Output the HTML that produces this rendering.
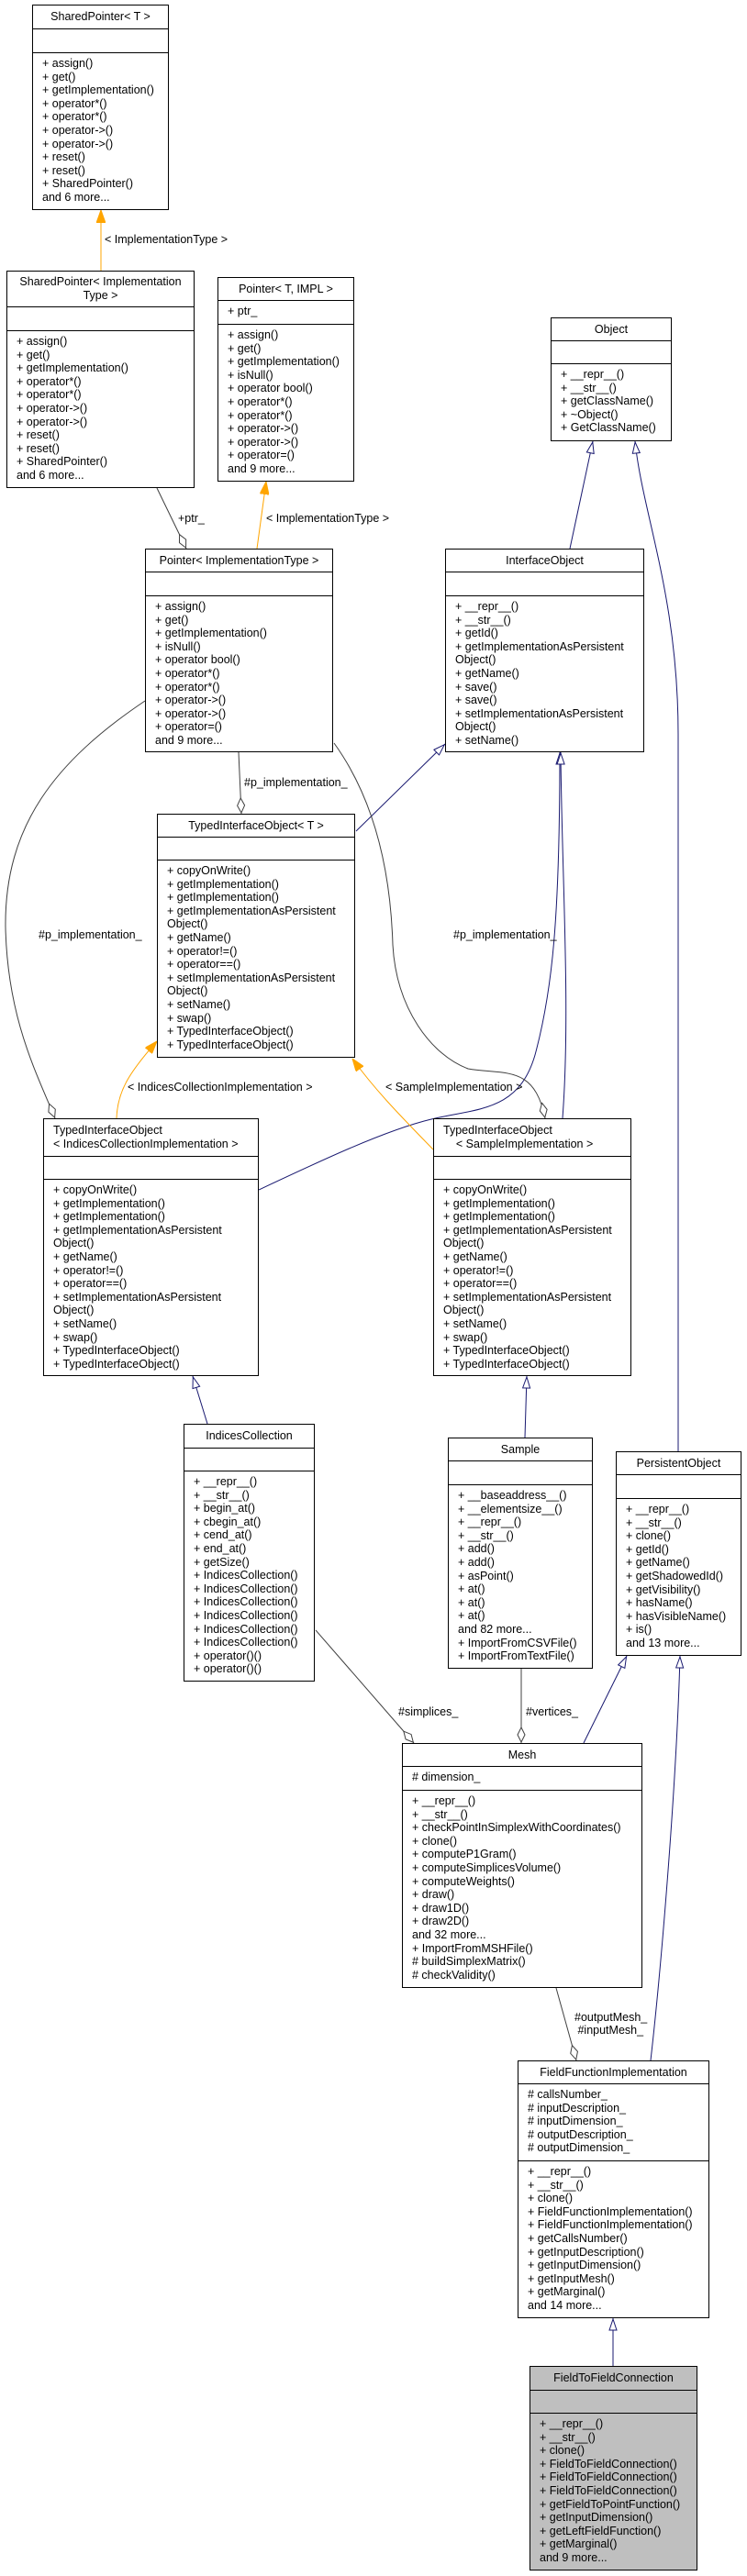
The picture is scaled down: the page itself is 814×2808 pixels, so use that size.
<!DOCTYPE html>
<html><head><meta charset="utf-8"><style>
body{margin:0;background:#fff;}
#c{position:relative;width:814px;height:2808px;overflow:hidden;font-family:"Liberation Sans",Arial,sans-serif;font-size:12.5px;color:#000;}
.b{position:absolute;border:1px solid #000;box-sizing:border-box;background:#fff;}
.b>div{box-sizing:border-box;white-space:nowrap;line-height:14.6px;}
.h{display:flex;flex-direction:column;justify-content:center;text-align:center;border-bottom:1px solid #000;}
.a{border-bottom:1px solid #000;padding:4px 0 0 10px;}
.m{padding:4px 0 0 10px;}
.lab{position:absolute;white-space:nowrap;font-size:12.5px;line-height:14px;}
svg{position:absolute;left:0;top:0;}
</style></head><body><div id="c">
<svg width="814" height="2808" viewBox="0 0 814 2808">
<defs>
<marker id="tn" viewBox="0 0 14 10" refX="14" refY="5" markerUnits="userSpaceOnUse" markerWidth="14" markerHeight="10" orient="auto"><path d="M1,1 L13,5 L1,9 z" fill="#fff" stroke="#191970" stroke-width="1"/></marker>
<marker id="to" viewBox="0 0 14 10" refX="14" refY="5" markerUnits="userSpaceOnUse" markerWidth="14" markerHeight="10" orient="auto"><path d="M0,0 L14,5 L0,10 z" fill="#ffa500" stroke="#ffa500"/></marker>
<marker id="dm" viewBox="0 0 18 10" refX="18" refY="5" markerUnits="userSpaceOnUse" markerWidth="18" markerHeight="10" orient="auto"><path d="M1,5 L9,1 L17,5 L9,9 z" fill="#fff" stroke="#404040" stroke-width="1"/></marker>
</defs>
<g fill="none" stroke-width="1">
<path d="M110,295 L110,229" stroke="#ffa500" marker-end="url(#to)"/>
<path d="M280,598 L290,525" stroke="#ffa500" marker-end="url(#to)"/>
<path d="M171,532 L203,598" stroke="#404040" marker-end="url(#dm)"/>
<path d="M621,598 L646,481" stroke="#191970" marker-end="url(#tn)"/>
<path d="M739,1582 L739,800 C739,650 700,560 692,481" stroke="#191970" marker-end="url(#tn)"/>
<path d="M388,906 L485,811" stroke="#191970" marker-end="url(#tn)"/>
<path d="M282,1297 C350,1265 420,1232 470,1220 C520,1208 565,1212 583,1150 C602,1080 610,1000 610,820" stroke="#191970" marker-end="url(#tn)"/>
<path d="M613,1219 C622,1100 612,950 611,820" stroke="#191970" marker-end="url(#tn)"/>
<path d="M260,820 L263,887" stroke="#404040" marker-end="url(#dm)"/>
<path d="M158,764 C60,830 5,900 6,1010 C8,1110 40,1170 60,1219" stroke="#404040" marker-end="url(#dm)"/>
<path d="M364,810 C400,860 425,930 428,1030 C432,1100 470,1150 510,1165 C550,1172 582,1160 594,1219" stroke="#404040" marker-end="url(#dm)"/>
<path d="M127,1219 C128,1190 140,1170 171,1135" stroke="#ffa500" marker-end="url(#to)"/>
<path d="M472,1253 C440,1220 410,1190 384,1154" stroke="#ffa500" marker-end="url(#to)"/>
<path d="M226,1552 L210,1500" stroke="#191970" marker-end="url(#tn)"/>
<path d="M572,1567 L574,1500" stroke="#191970" marker-end="url(#tn)"/>
<path d="M636,1900 L683,1805" stroke="#191970" marker-end="url(#tn)"/>
<path d="M709,2246 C720,2150 737,1950 741,1805" stroke="#191970" marker-end="url(#tn)"/>
<path d="M344,1777 L451,1900" stroke="#404040" marker-end="url(#dm)"/>
<path d="M568,1819 L568,1900" stroke="#404040" marker-end="url(#dm)"/>
<path d="M606,2167 L628,2246" stroke="#404040" marker-end="url(#dm)"/>
<path d="M668,2579 L668,2527" stroke="#191970" marker-end="url(#tn)"/>
</g></svg>

<div class="lab" style="left:114px;top:254px">&lt; ImplementationType &gt;</div>
<div class="lab" style="left:194px;top:558px">+ptr_</div>
<div class="lab" style="left:290px;top:558px">&lt; ImplementationType &gt;</div>
<div class="lab" style="left:266px;top:846px">#p_implementation_</div>
<div class="lab" style="left:42px;top:1012px">#p_implementation_</div>
<div class="lab" style="left:494px;top:1012px">#p_implementation_</div>
<div class="lab" style="left:139px;top:1178px">&lt; IndicesCollectionImplementation &gt;</div>
<div class="lab" style="left:420px;top:1178px">&lt; SampleImplementation &gt;</div>
<div class="lab" style="left:434px;top:1859px">#simplices_</div>
<div class="lab" style="left:573px;top:1859px">#vertices_</div>
<div class="lab" style="left:626px;top:2192px">#outputMesh_<br>&nbsp;#inputMesh_</div>

<div class="b" style="left:35px;top:5px;width:149px;height:224px"><div class="h" style="height:26px">SharedPointer&lt; T &gt;</div><div class="a" style="height:26px"></div><div class="m">+ assign()<br>+ get()<br>+ getImplementation()<br>+ operator*()<br>+ operator*()<br>+ operator-&gt;()<br>+ operator-&gt;()<br>+ reset()<br>+ reset()<br>+ SharedPointer()<br>and 6 more...</div></div>

<div class="b" style="left:7px;top:295px;width:205px;height:237px"><div class="h" style="height:39px">SharedPointer&lt; Implementation<br>Type &gt;</div><div class="a" style="height:26px"></div><div class="m">+ assign()<br>+ get()<br>+ getImplementation()<br>+ operator*()<br>+ operator*()<br>+ operator-&gt;()<br>+ operator-&gt;()<br>+ reset()<br>+ reset()<br>+ SharedPointer()<br>and 6 more...</div></div>

<div class="b" style="left:237px;top:302px;width:149px;height:223px"><div class="h" style="height:25px">Pointer&lt; T, IMPL &gt;</div><div class="a" style="height:26px">+ ptr_</div><div class="m">+ assign()<br>+ get()<br>+ getImplementation()<br>+ isNull()<br>+ operator bool()<br>+ operator*()<br>+ operator*()<br>+ operator-&gt;()<br>+ operator-&gt;()<br>+ operator=()<br>and 9 more...</div></div>

<div class="b" style="left:600px;top:346px;width:132px;height:135px"><div class="h" style="height:25px">Object</div><div class="a" style="height:25px"></div><div class="m">+ __repr__()<br>+ __str__()<br>+ getClassName()<br>+ ~Object()<br>+ GetClassName()</div></div>

<div class="b" style="left:158px;top:598px;width:205px;height:222px"><div class="h" style="height:25px">Pointer&lt; ImplementationType &gt;</div><div class="a" style="height:26px"></div><div class="m">+ assign()<br>+ get()<br>+ getImplementation()<br>+ isNull()<br>+ operator bool()<br>+ operator*()<br>+ operator*()<br>+ operator-&gt;()<br>+ operator-&gt;()<br>+ operator=()<br>and 9 more...</div></div>

<div class="b" style="left:485px;top:598px;width:217px;height:222px"><div class="h" style="height:25px">InterfaceObject</div><div class="a" style="height:26px"></div><div class="m">+ __repr__()<br>+ __str__()<br>+ getId()<br>+ getImplementationAsPersistent<br>Object()<br>+ getName()<br>+ save()<br>+ save()<br>+ setImplementationAsPersistent<br>Object()<br>+ setName()</div></div>

<div class="b" style="left:171px;top:887px;width:216px;height:266px"><div class="h" style="height:25px">TypedInterfaceObject&lt; T &gt;</div><div class="a" style="height:25px"></div><div class="m">+ copyOnWrite()<br>+ getImplementation()<br>+ getImplementation()<br>+ getImplementationAsPersistent<br>Object()<br>+ getName()<br>+ operator!=()<br>+ operator==()<br>+ setImplementationAsPersistent<br>Object()<br>+ setName()<br>+ swap()<br>+ TypedInterfaceObject()<br>+ TypedInterfaceObject()</div></div>

<div class="b" style="left:47px;top:1219px;width:235px;height:281px"><div class="h" style="height:41px;text-align:left;padding-left:10px">TypedInterfaceObject<br>&lt; IndicesCollectionImplementation &gt;</div><div class="a" style="height:25px"></div><div class="m">+ copyOnWrite()<br>+ getImplementation()<br>+ getImplementation()<br>+ getImplementationAsPersistent<br>Object()<br>+ getName()<br>+ operator!=()<br>+ operator==()<br>+ setImplementationAsPersistent<br>Object()<br>+ setName()<br>+ swap()<br>+ TypedInterfaceObject()<br>+ TypedInterfaceObject()</div></div>

<div class="b" style="left:472px;top:1219px;width:216px;height:281px"><div class="h" style="height:41px;text-align:left;padding-left:10px">TypedInterfaceObject<br>&nbsp;&nbsp;&nbsp;&nbsp;&lt; SampleImplementation &gt;</div><div class="a" style="height:25px"></div><div class="m">+ copyOnWrite()<br>+ getImplementation()<br>+ getImplementation()<br>+ getImplementationAsPersistent<br>Object()<br>+ getName()<br>+ operator!=()<br>+ operator==()<br>+ setImplementationAsPersistent<br>Object()<br>+ setName()<br>+ swap()<br>+ TypedInterfaceObject()<br>+ TypedInterfaceObject()</div></div>

<div class="b" style="left:200px;top:1552px;width:143px;height:281px"><div class="h" style="height:26px">IndicesCollection</div><div class="a" style="height:25px"></div><div class="m">+ __repr__()<br>+ __str__()<br>+ begin_at()<br>+ cbegin_at()<br>+ cend_at()<br>+ end_at()<br>+ getSize()<br>+ IndicesCollection()<br>+ IndicesCollection()<br>+ IndicesCollection()<br>+ IndicesCollection()<br>+ IndicesCollection()<br>+ IndicesCollection()<br>+ operator()()<br>+ operator()()</div></div>

<div class="b" style="left:488px;top:1567px;width:158px;height:252px"><div class="h" style="height:25px">Sample</div><div class="a" style="height:26px"></div><div class="m">+ __baseaddress__()<br>+ __elementsize__()<br>+ __repr__()<br>+ __str__()<br>+ add()<br>+ add()<br>+ asPoint()<br>+ at()<br>+ at()<br>+ at()<br>and 82 more...<br>+ ImportFromCSVFile()<br>+ ImportFromTextFile()</div></div>

<div class="b" style="left:671px;top:1582px;width:137px;height:223px"><div class="h" style="height:25px">PersistentObject</div><div class="a" style="height:26px"></div><div class="m">+ __repr__()<br>+ __str__()<br>+ clone()<br>+ getId()<br>+ getName()<br>+ getShadowedId()<br>+ getVisibility()<br>+ hasName()<br>+ hasVisibleName()<br>+ is()<br>and 13 more...</div></div>

<div class="b" style="left:438px;top:1900px;width:262px;height:267px"><div class="h" style="height:25px">Mesh</div><div class="a" style="height:26px"># dimension_</div><div class="m">+ __repr__()<br>+ __str__()<br>+ checkPointInSimplexWithCoordinates()<br>+ clone()<br>+ computeP1Gram()<br>+ computeSimplicesVolume()<br>+ computeWeights()<br>+ draw()<br>+ draw1D()<br>+ draw2D()<br>and 32 more...<br>+ ImportFromMSHFile()<br># buildSimplexMatrix()<br># checkValidity()</div></div>

<div class="b" style="left:564px;top:2246px;width:209px;height:281px"><div class="h" style="height:25px">FieldFunctionImplementation</div><div class="a" style="height:84px"># callsNumber_<br># inputDescription_<br># inputDimension_<br># outputDescription_<br># outputDimension_</div><div class="m">+ __repr__()<br>+ __str__()<br>+ clone()<br>+ FieldFunctionImplementation()<br>+ FieldFunctionImplementation()<br>+ getCallsNumber()<br>+ getInputDescription()<br>+ getInputDimension()<br>+ getInputMesh()<br>+ getMarginal()<br>and 14 more...</div></div>

<div class="b" style="left:577px;top:2579px;width:183px;height:223px;background:#bfbfbf"><div class="h" style="height:26px">FieldToFieldConnection</div><div class="a" style="height:25px"></div><div class="m">+ __repr__()<br>+ __str__()<br>+ clone()<br>+ FieldToFieldConnection()<br>+ FieldToFieldConnection()<br>+ FieldToFieldConnection()<br>+ getFieldToPointFunction()<br>+ getInputDimension()<br>+ getLeftFieldFunction()<br>+ getMarginal()<br>and 9 more...</div></div>
</div></body></html>
